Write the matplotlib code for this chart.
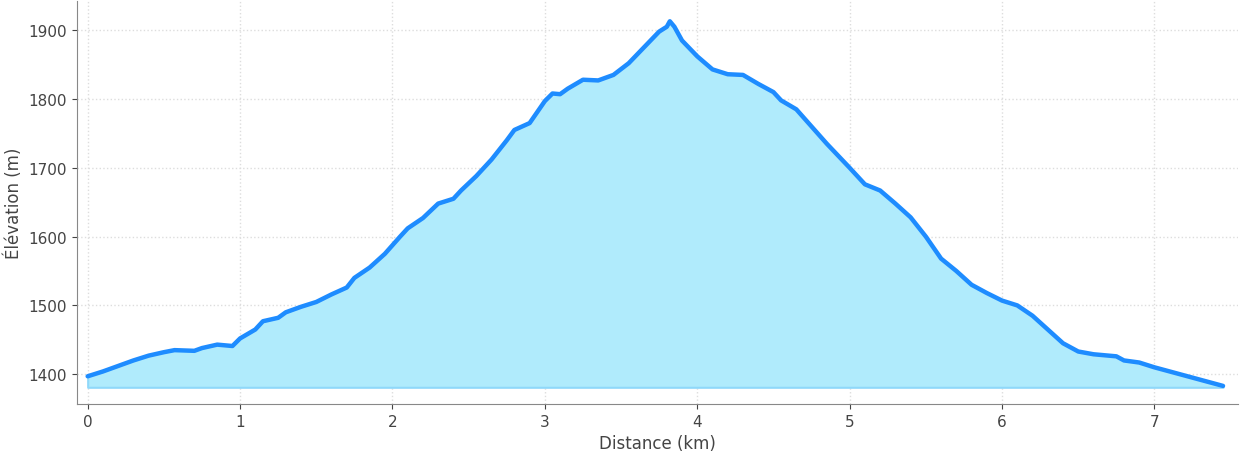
import matplotlib
matplotlib.use("Agg")
from matplotlib import pyplot as plt

# profil d'altitude (km, m)
distance = [0, 0.1, 0.2, 0.3, 0.4, 0.5, 0.57, 0.7, 0.75, 0.85, 0.95, 1.0, 1.1, 1.15,
            1.25, 1.3, 1.4, 1.5, 1.6, 1.7, 1.75, 1.85, 1.95, 2.05, 2.1, 2.2, 2.3, 2.4,
            2.45, 2.55, 2.65, 2.75, 2.8, 2.9, 3.0, 3.05, 3.1, 3.15, 3.25, 3.35, 3.45,
            3.55, 3.65, 3.75, 3.8, 3.82, 3.85, 3.9, 4.0, 4.1, 4.2, 4.3, 4.4, 4.5, 4.55,
            4.65, 4.75, 4.85, 5.0, 5.1, 5.2, 5.3, 5.4, 5.5, 5.6, 5.7, 5.8, 5.9, 6.0,
            6.1, 6.2, 6.3, 6.4, 6.5, 6.6, 6.75, 6.8, 6.9, 7.0, 7.1, 7.2, 7.3, 7.45]
elevation = [1397, 1404, 1412, 1420, 1427, 1432, 1435, 1434, 1438, 1443, 1441, 1452,
             1465, 1477, 1482, 1490, 1498, 1505, 1516, 1526, 1540, 1555, 1575, 1600,
             1612, 1627, 1648, 1655, 1667, 1688, 1712, 1740, 1755, 1765, 1797, 1808,
             1807, 1815, 1828, 1827, 1835, 1852, 1875, 1898, 1905, 1913, 1905, 1885,
             1862, 1843, 1836, 1835, 1822, 1810, 1798, 1785, 1760, 1735, 1700, 1676,
             1667, 1648, 1628, 1600, 1568, 1550, 1530, 1518, 1507, 1500, 1485, 1465,
             1445, 1433, 1429, 1426, 1420, 1417, 1410, 1404, 1398, 1392, 1383]
base = 1381

fig, ax = plt.subplots(figsize=(12.42, 4.6), dpi=100)
ax.fill_between(distance, elevation, base, color="#b0ebfc", edgecolor="#8fd8fa", linewidth=1.5)
ax.plot(distance, elevation, color="#1e8cff", linewidth=3.2, solid_capstyle="round")

ax.set_xlim(-0.07, 7.55)
ax.set_ylim(1357, 1942)
ax.set_xticks(range(8))
ax.set_yticks([1400, 1500, 1600, 1700, 1800, 1900])
ax.grid(True, linestyle=":", color="#dddddd", linewidth=1)
ax.set_axisbelow(True)
for s in ["top", "right"]:
    ax.spines[s].set_visible(False)
for s in ["left", "bottom"]:
    ax.spines[s].set_color("#888888")
ax.tick_params(colors="#444444", labelsize=11)
ax.set_xlabel("Distance (km)", fontsize=12, color="#444444")
ax.set_ylabel("Élévation (m)", fontsize=12, color="#444444")

plt.subplots_adjust(left=0.062, right=0.997, top=0.995, bottom=0.12)
plt.savefig("out.png")
